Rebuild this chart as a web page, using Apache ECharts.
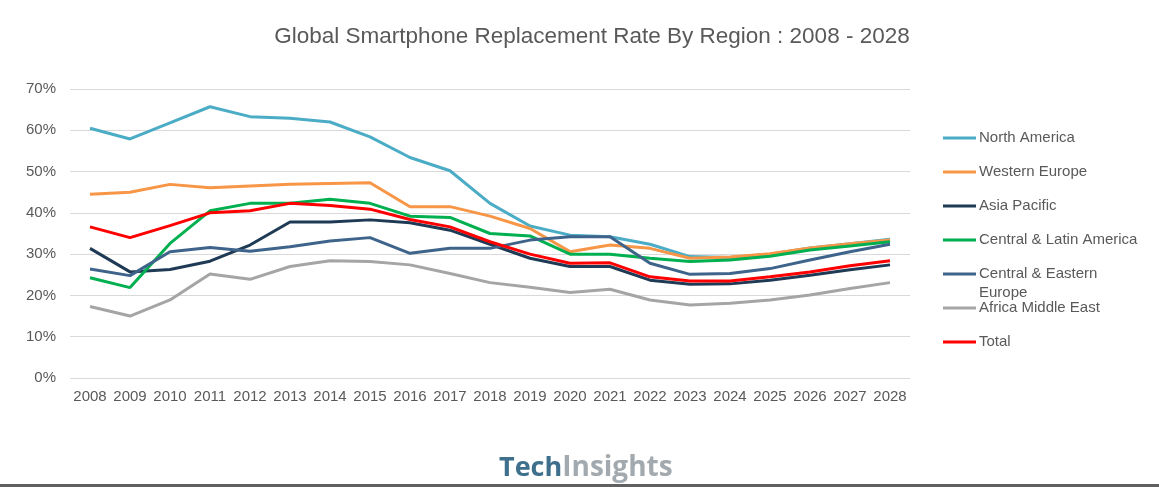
<!DOCTYPE html>
<html>
<head>
<meta charset="utf-8">
<script src="https://cdn.jsdelivr.net/npm/echarts@6/dist/echarts.min.js"></script>
<style>
html,body{margin:0;padding:0;background:#fff;}
#chart{width:1159px;height:487px;}
</style>
</head>
<body>
<div id="chart"></div>
<script>
const years = ['2008','2009','2010','2011','2012','2013','2014','2015','2016','2017','2018','2019','2020','2021','2022','2023','2024','2025','2026','2027','2028'];
const yTicks = [0,10,20,30,40,50,60,70];
const northAmerica = [60.5,57.9,61.8,65.7,63.3,62.9,62.0,58.4,53.4,50.2,42.3,36.8,34.6,34.2,32.4,29.4,29.2,30.0,31.5,32.5,33.6];
const westernEurope = [44.5,45.0,46.9,46.1,46.5,46.9,47.1,47.3,41.5,41.5,39.2,36.2,30.6,32.2,31.4,29.0,29.3,30.1,31.5,32.5,33.4];
const asiaPacific = [31.4,25.7,26.3,28.3,32.2,37.8,37.8,38.3,37.6,35.8,32.4,29.0,27.0,27.0,23.7,22.7,22.8,23.7,24.9,26.2,27.4];
const centralLatinAmerica = [24.3,21.9,32.6,40.5,42.3,42.3,43.3,42.3,39.2,38.9,35.0,34.4,30.0,30.0,29.0,28.2,28.6,29.5,31.0,32.0,33.0];
const centralEasternEurope = [26.4,24.8,30.6,31.6,30.7,31.8,33.2,34.0,30.2,31.4,31.4,33.4,34.2,34.2,27.8,25.1,25.3,26.5,28.6,30.6,32.4];
const africaMiddleEast = [17.3,15.0,18.9,25.2,23.9,27.0,28.4,28.2,27.4,25.3,23.1,22.0,20.7,21.5,18.9,17.7,18.1,18.9,20.1,21.7,23.1];
const total = [36.6,34.0,36.9,40.0,40.5,42.3,41.8,40.9,38.4,36.6,33.0,30.0,27.8,27.9,24.5,23.5,23.5,24.5,25.7,27.2,28.4];

const seriesDefs = [
  {name:'North America', data:northAmerica, color:'#4BACC6'},
  {name:'Western Europe', data:westernEurope, color:'#F79646'},
  {name:'Asia Pacific', data:asiaPacific, color:'#1F3A55'},
  {name:'Central & Latin America', data:centralLatinAmerica, color:'#00B050'},
  {name:'Central & Eastern Europe', data:centralEasternEurope, color:'#3F648B'},
  {name:'Africa Middle East', data:africaMiddleEast, color:'#A5A5A5'},
  {name:'Total', data:total, color:'#FF0000'}
];

const FONT = '"Liberation Sans", Arial, sans-serif';
const chart = echarts.init(document.getElementById('chart'));
chart.setOption({
  backgroundColor:'#fff',
  animation:false,
  title:{
    text:'Global Smartphone Replacement Rate By Region : 2008 - 2028',
    left:587, top:20, textAlign:'center',
    textStyle:{fontFamily:FONT, fontSize:22.5, fontWeight:'normal', color:'#595959'}
  },
  legend:{
    orient:'vertical', left:943, top:130, padding:0,
    itemWidth:33, itemHeight:3, itemGap:18, icon:'rect',
    data:seriesDefs.map(s=>s.name),
    formatter: n => n === 'Central & Eastern Europe' ? 'Central & Eastern' : n,
    textStyle:{fontFamily:FONT, fontSize:15, lineHeight:16, color:'#595959', padding:[0,0,0,-2]}
  },
  grid:{left:70, right:249, top:89, bottom:109},
  xAxis:{
    type:'category', data:years, boundaryGap:true,
    axisLine:{show:false}, axisTick:{show:false},
    axisLabel:{interval:0, hideOverlap:false, fontFamily:FONT, fontSize:15, color:'#595959', margin:11}
  },
  yAxis:{
    type:'value', min:0, max:70, interval:10,
    axisLine:{show:false}, axisTick:{show:false},
    splitLine:{lineStyle:{color:'#D9D9D9', width:1}},
    axisLabel:{fontFamily:FONT, fontSize:15, color:'#595959', margin:14, formatter:'{value}%'}
  },
  series: seriesDefs.map(s=>({
    name:s.name, type:'line', data:s.data, symbol:'none',
    lineStyle:{width:3, color:s.color}, itemStyle:{color:s.color}
  })),
  graphic:[
    {type:'text', left:979, top:285, style:{text:'Europe', font:'15px ' + FONT, fill:'#595959'}},
    {type:'text', left:499, top:454, style:{
      text:'{a|Tech}{b|Insights}',
      rich:{
        a:{fontFamily:'"Open Sans", sans-serif', fontSize:27, fontWeight:'bold', fill:'#3E6F8D', color:'#3E6F8D'},
        b:{fontFamily:'"Open Sans", sans-serif', fontSize:28, fontWeight:'bold', fill:'#A3AAAF', color:'#A3AAAF'}
      }
    }},
    {type:'rect', shape:{x:0, y:484, width:1159, height:3}, style:{fill:'#606060'}}
  ]
});
</script>
</body>
</html>
